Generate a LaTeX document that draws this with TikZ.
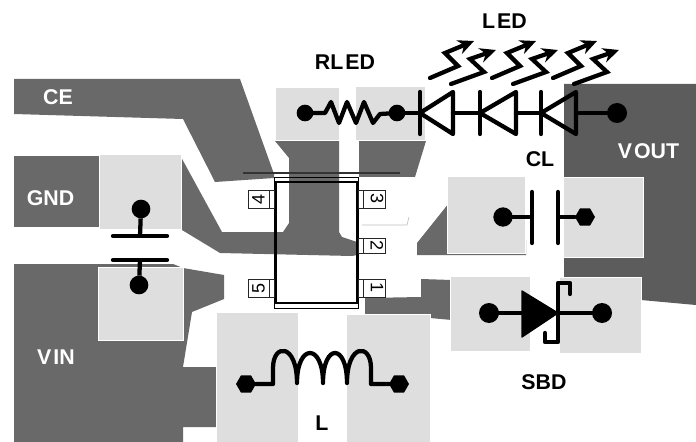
\documentclass[tikz,border=0pt]{standalone}
\usepackage{fontspec}
\setmainfont{Liberation Sans}
\usetikzlibrary{arrows.meta,shapes.geometric}
\definecolor{trace}{gray}{0.41}
\definecolor{traced}{gray}{0.36}
\definecolor{padc}{gray}{0.87}
\tikzset{
  copper/.style={fill=trace,draw=none},
  coppervout/.style={fill=traced,draw=none},
  padbox/.style={fill=padc,draw=white,line width=0.6pt,inner sep=0pt,outer sep=0pt,anchor=north west},
  pinbox/.style={fill=white,draw=black!85,line width=0.7pt,inner sep=0pt,outer sep=0pt,anchor=north west},
  wire/.style={line width=3.2pt,line cap=round,line join=round,black},
  thinwire/.style={line width=2.6pt,line cap=round,line join=round,black},
  dot/.style={circle,fill=black,inner sep=0pt,minimum size=#1,outer sep=0pt},
  hexdot/.style={regular polygon,regular polygon sides=6,fill=black,inner sep=0pt,minimum size=#1,outer sep=0pt},
  lbl/.style={font=\fontsize{16pt}{17pt}\selectfont\bfseries,black,inner sep=0pt},
  wlbl/.style={lbl,white},
  pinnum/.style={font=\fontsize{13.5pt}{14pt}\selectfont,inner sep=0pt},
  glow/.style={line width=3.2pt,line cap=round,line join=miter,-{Stealth[length=12pt,width=11pt]}}
}
\newcommand{\padat}[5]{\node[padbox,minimum width={(#4-#2)*0.75pt},minimum height={(#5-#3)*0.75pt}] (#1) at (#2,#3) {};}
\newcommand{\pinat}[5]{\node[pinbox,minimum width={(#4-#2)*0.75pt},minimum height={(#5-#3)*0.75pt}] (#1) at (#2,#3) {};}
\begin{document}
\begin{tikzpicture}[x=0.75pt,y=-0.75pt]
\useasboundingbox (0,0) rectangle (696,442);
% copper
\fill[copper] (14,79) -- (240,79) -- (274,174) -- (274,178) -- (215,182) -- (183,119) -- (14,114) -- cycle;
\fill[copper] (14,156) rectangle (99,227);
\fill[copper] (181,157) -- (222,232) -- (283,232) -- (289,223) -- (289,158) -- (275,141) -- (339,141) -- (339,232) -- (342,237) -- (357,242) -- (357,255) -- (352,256) -- (220,253) -- (182,230) -- cycle;
\fill[copper] (359,141) -- (426,141) -- (415,177) -- (359,177) -- cycle;
\fill[copper] (14,264) -- (173,264) -- (183,268) -- (224,275) -- (224,299) -- (192,312) -- (183,367) -- (216,367) -- (216,427) -- (183,427) -- (183,442) -- (14,442) -- cycle;
\fill[copper] (365,298) -- (421,297) -- (421,279) -- (452,280) -- (452,320) -- (430,318) -- (430,314) -- (365,314) -- cycle;
\fill[copper] (449,203) -- (417,243) -- (417,255) -- (526,255) -- (526,240) -- (449,240) -- cycle;
\fill[coppervout] (564,84) -- (696,84) -- (696,305) -- (641,300) -- (600,290) -- (564,280) -- cycle;
\draw[gray!50,line width=0.5pt] (362,225) -- (407,225) -- (409,217);
% pads
\padat{padcetop}{275}{87}{339}{140}
\padat{padrled}{355}{86}{425}{140}
\padat{padcup}{99}{154}{181}{229}
\padat{padclow}{98}{267}{183}{340}
\padat{padll}{216}{312}{298}{442}
\padat{padlr}{346}{314}{430}{442}
\padat{padcll}{447}{176}{525}{253}
\padat{padclr}{563}{177}{643}{257}
\padat{padsl}{450}{276}{530}{351}
\padat{padsr}{559}{277}{641}{353}
% package
\draw[black!80,line width=1pt] (243,173) -- (400,173);
\draw[black,line width=0.7pt] (274,177) rectangle (358,308);
\draw[black,line width=0.8pt] (276,182) rectangle (357,303);
\pinat{pinf}{248}{190}{274}{208}
\pinat{pinv}{248}{279}{274}{297}
\pinat{pinc}{358}{190}{385}{208}
\pinat{pinb}{358}{238}{385}{253}
\pinat{pina}{358}{279}{385}{297}
\draw[black!85,line width=0.7pt] (269,190) -- (269,208) (269,279) -- (269,297) (363,190) -- (363,208) (363,238) -- (363,253) (363,279) -- (363,297);
\node[pinnum,rotate=90] (n4) at (258.5,199) {4};
\node[pinnum,rotate=90] (n5) at (258.5,288) {5};
\node[pinnum,rotate=-90] (n3) at (377,199) {3};
\node[pinnum,rotate=-90] (n2) at (377,245.5) {2};
\node[pinnum,rotate=-90] (n1) at (377,288) {1};
% input capacitor
\node[dot=14pt] (cintop) at (141,209) {};
\node[dot=14pt] (cinbot) at (139,285) {};
\coordinate (cinpa) at (140,236);
\coordinate (cinpb) at (140,260);
\draw[wire] (113,236) -- (167,236) (113,260) -- (167,260);
\draw[wire,line cap=butt] (cintop) -- (cinpa) (cinbot) -- (cinpb);
% resistor
\node[dot=12.5pt] (rl) at (305,113) {};
\node[dot=12.5pt] (rr) at (397,113) {};
\draw[wire] (rl) -- (325,113) -- (331,102) -- (339,123) -- (347,102) -- (356,123) -- (364,102) -- (373,123) -- (380,114) -- (rr);
% LEDs
\node[dot=15pt] (vout) at (617,113) {};
\coordinate (k1) at (420,113);
\coordinate (a1) at (453,113);
\coordinate (k2) at (480,113);
\coordinate (a2) at (516,113);
\coordinate (k3) at (541,113);
\coordinate (a3) at (576,113);
\draw[wire] (rr) -- (k1) (a1) -- (k2) (a2) -- (k3) (a3) -- (vout);
\foreach \bx/\ax in {420/453,480/516,541/576}{
  \draw[wire] (\bx,92) -- (\bx,134);
  \draw[wire] (\bx,113) -- (\ax,92) -- (\ax,134) -- cycle;
}
\foreach \dx in {0,62,123}{
  \begin{scope}[xshift=\dx*0.75pt]
    \draw[glow] (430,78) -- (458,66) -- (445,53) -- (474,41);
    \draw[glow] (451,84) -- (484,72) -- (470,59) -- (496,50);
  \end{scope}
}
% output capacitor
\node[dot=14.5pt] (cll) at (503,217) {};
\node[hexdot=15pt] (clr) at (585,217) {};
\coordinate (clpa) at (532,217);
\coordinate (clpb) at (558,217);
\draw[thinwire] (cll) -- (clpa) (clr) -- (clpb);
\draw[wire] (532,192) -- (532,243) (558,192) -- (558,243);
% Schottky
\node[dot=15pt] (sl) at (489,313) {};
\node[dot=15pt] (sr) at (602,313) {};
\coordinate (sa) at (522,313);
\coordinate (sk) at (558,313);
\draw[wire] (sl) -- (sa) (sk) -- (sr);
\fill[black,draw=black,line width=1pt,line join=round] (522,291) -- (558,313) -- (522,337) -- cycle;
\draw[wire] (570,294) -- (570,283) -- (558,283) -- (558,342) -- (545,342) -- (545,333);
% inductor
\node[hexdot=15pt] (ll) at (246,384) {};
\node[hexdot=15pt] (lr) at (399,384) {};
\draw[wire] (ll) -- (273,384) -- (273,368) .. controls (273,343) and (297,343) .. (297,383)
  .. controls (297,343) and (323,343) .. (323,383)
  .. controls (323,343) and (347,343) .. (347,383)
  .. controls (347,343) and (371,343) .. (371,368) -- (371,384) -- (lr);
% labels
\node[wlbl] (tce) at (58,97) {CE};
\node[wlbl] (tgnd) at (50.5,198) {GND};
\node[wlbl] (tvin) at (56,357) {V\kern1.5pt IN};
\node[wlbl] (tvout) at (648.5,151) {V\kern1.5pt OUT};
\node[lbl] (trled) at (345,62) {RL\kern1.5pt ED};
\node[lbl] (tled) at (504.5,21) {L\kern1.5pt ED};
\node[lbl] (tcl) at (540,159) {CL};
\node[lbl] (tsbd) at (544,382) {SBD};
\node[lbl] (tl) at (322,423) {L};
\end{tikzpicture}
\end{document}
